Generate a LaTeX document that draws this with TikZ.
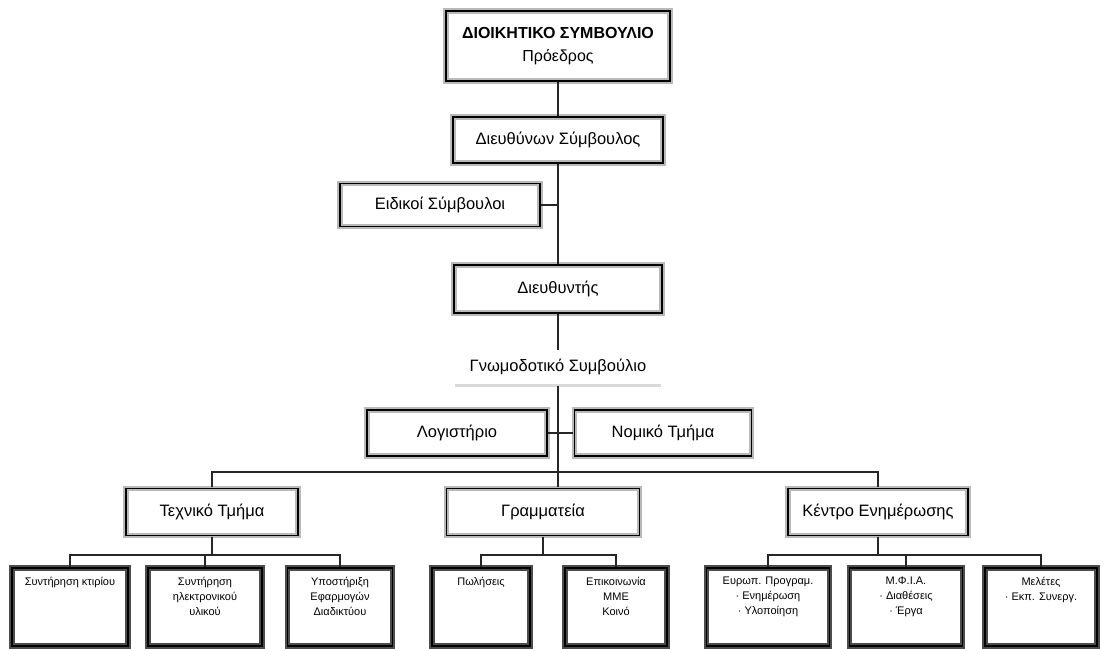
\documentclass[tikz,border=0pt]{standalone}
\usepackage{fontspec}
\setmainfont{Liberation Sans}
\begin{document}
\begin{tikzpicture}[x=1pt,y=-1pt,
  box/.style={draw=gray!55, double=black, double distance=1.1pt, line width=2.2pt, fill=white, inner sep=0pt, align=center},
  sbox/.style={box, minimum height=78pt, draw=black!70},
  conn/.style={draw=black!85, line width=1.1pt},
  big/.style={font=\fontsize{16}{20}\selectfont},
  mid/.style={font=\fontsize{16.5}{20}\selectfont},
  small/.style={font=\fontsize{11}{15}\selectfont, align=center, anchor=north, inner sep=0pt}]
\useasboundingbox (0,0) rectangle (1108,648);
\fill[white] (0,0) rectangle (1108,648);

% upper chain
\node[box, big, minimum width=224pt, minimum height=70pt] (top) at (558,46) {\textbf{ΔΙΟΙΚΗΤΙΚΟ ΣΥΜΒΟΥΛΙΟ}\\[3pt]Πρόεδρος};
\node[box, mid, minimum width=210pt, minimum height=46pt] (dsym) at (558,140) {Διευθύνων Σύμβουλος};
\node[box, mid, minimum width=200pt, minimum height=43pt] (eid) at (440,205) {Ειδικοί Σύμβουλοι};
\node[box, mid, minimum width=208pt, minimum height=48pt] (dieyth) at (558,289) {Διευθυντής};
\node[mid, minimum width=206pt, minimum height=34pt, inner sep=0pt] (gnomo) at (558,367) {Γνωμοδοτικό Συμβούλιο};
\node[box, mid, minimum width=180pt, minimum height=46pt] (logist) at (457,433) {Λογιστήριο};
\node[box, mid, minimum width=177pt, minimum height=46pt] (nomiko) at (663,433) {Νομικό Τμήμα};

% departments
\node[box, mid, minimum width=172pt, minimum height=47pt] (tech) at (212,512) {Τεχνικό Τμήμα};
\node[box, mid, minimum width=193pt, minimum height=47pt] (gram) at (543,512) {Γραμματεία};
\node[box, mid, minimum width=180pt, minimum height=47pt] (kent) at (878,512) {Κέντρο Ενημέρωσης};

% bottom boxes
\node[sbox, minimum width=116pt] (c1) at (70,607) {};
\node[sbox, minimum width=114pt] (c2) at (205,607) {};
\node[sbox, minimum width=105pt] (c3) at (340,607) {};
\node[sbox, minimum width=98pt] (c4) at (481,607) {};
\node[sbox, minimum width=102pt] (c5) at (616,607) {};
\node[sbox, minimum width=123pt] (c6) at (768,607) {};
\node[sbox, minimum width=113pt] (c7) at (906,607) {};
\node[sbox, minimum width=112pt] (c8) at (1041,607) {};

\node[small] (t1) at ([yshift=-10pt]c1.north) {Συντήρηση κτιρίου};
\node[small] (t2) at ([yshift=-10pt]c2.north) {Συντήρηση\\ηλεκτρονικού\\υλικού};
\node[small] (t3) at ([yshift=-10pt]c3.north) {Υποστήριξη\\Εφαρμογών\\Διαδικτύου};
\node[small] (t4) at ([yshift=-10pt]c4.north) {Πωλήσεις};
\node[small] (t5) at ([yshift=-10pt]c5.north) {Επικοινωνία\\ΜΜΕ\\Κοινό};
\node[small] (t6) at ([yshift=-10pt]c6.north) {Ευρωπ. Προγραμ.\\ · Ενημέρωση\\ · Υλοποίηση};
\node[small] (t7) at ([yshift=-10pt]c7.north) {Μ.Φ.Ι.Α.\\ · Διαθέσεις\\ · Έργα};
\node[small] (t8) at ([yshift=-10pt]c8.north) {Μελέτες\\ · Εκπ. Συνεργ.};

% light band under advisory council
\draw[gray!30, line width=3pt] ([yshift=-1pt]gnomo.south west) -- ([yshift=-1pt]gnomo.south east);

\coordinate (bar) at (558,472);
\coordinate (sb) at (0,555);

% connectors
\draw[conn] (top.south) -- (dsym.north);
\draw[conn] (dsym.south) -- (dieyth.north);
\draw[conn] (eid.east) -- (eid.east -| dsym.south);
\draw[conn] (dieyth.south) -- (gnomo.north);
\draw[conn] ([yshift=-2pt]gnomo.south) -- (gram.north -| gnomo.south);
\draw[conn] (logist.east) -- (nomiko.west);
\draw[conn] (tech.north) -- (tech.north |- bar) -- (kent.north |- bar) -- (kent.north);

\draw[conn] (tech.south) -- (tech.south |- sb);
\draw[conn] (c1.north) -- (c1.north |- sb) -- (c3.north |- sb) -- (c3.north);
\draw[conn] (c2.north) -- (c2.north |- sb);

\draw[conn] (gram.south) -- (gram.south |- sb);
\draw[conn] (c4.north) -- (c4.north |- sb) -- (c5.north |- sb) -- (c5.north);

\draw[conn] (kent.south) -- (kent.south |- sb);
\draw[conn] (c6.north) -- (c6.north |- sb) -- (c8.north |- sb) -- (c8.north);
\draw[conn] (c7.north) -- (c7.north |- sb);
\end{tikzpicture}
\end{document}
